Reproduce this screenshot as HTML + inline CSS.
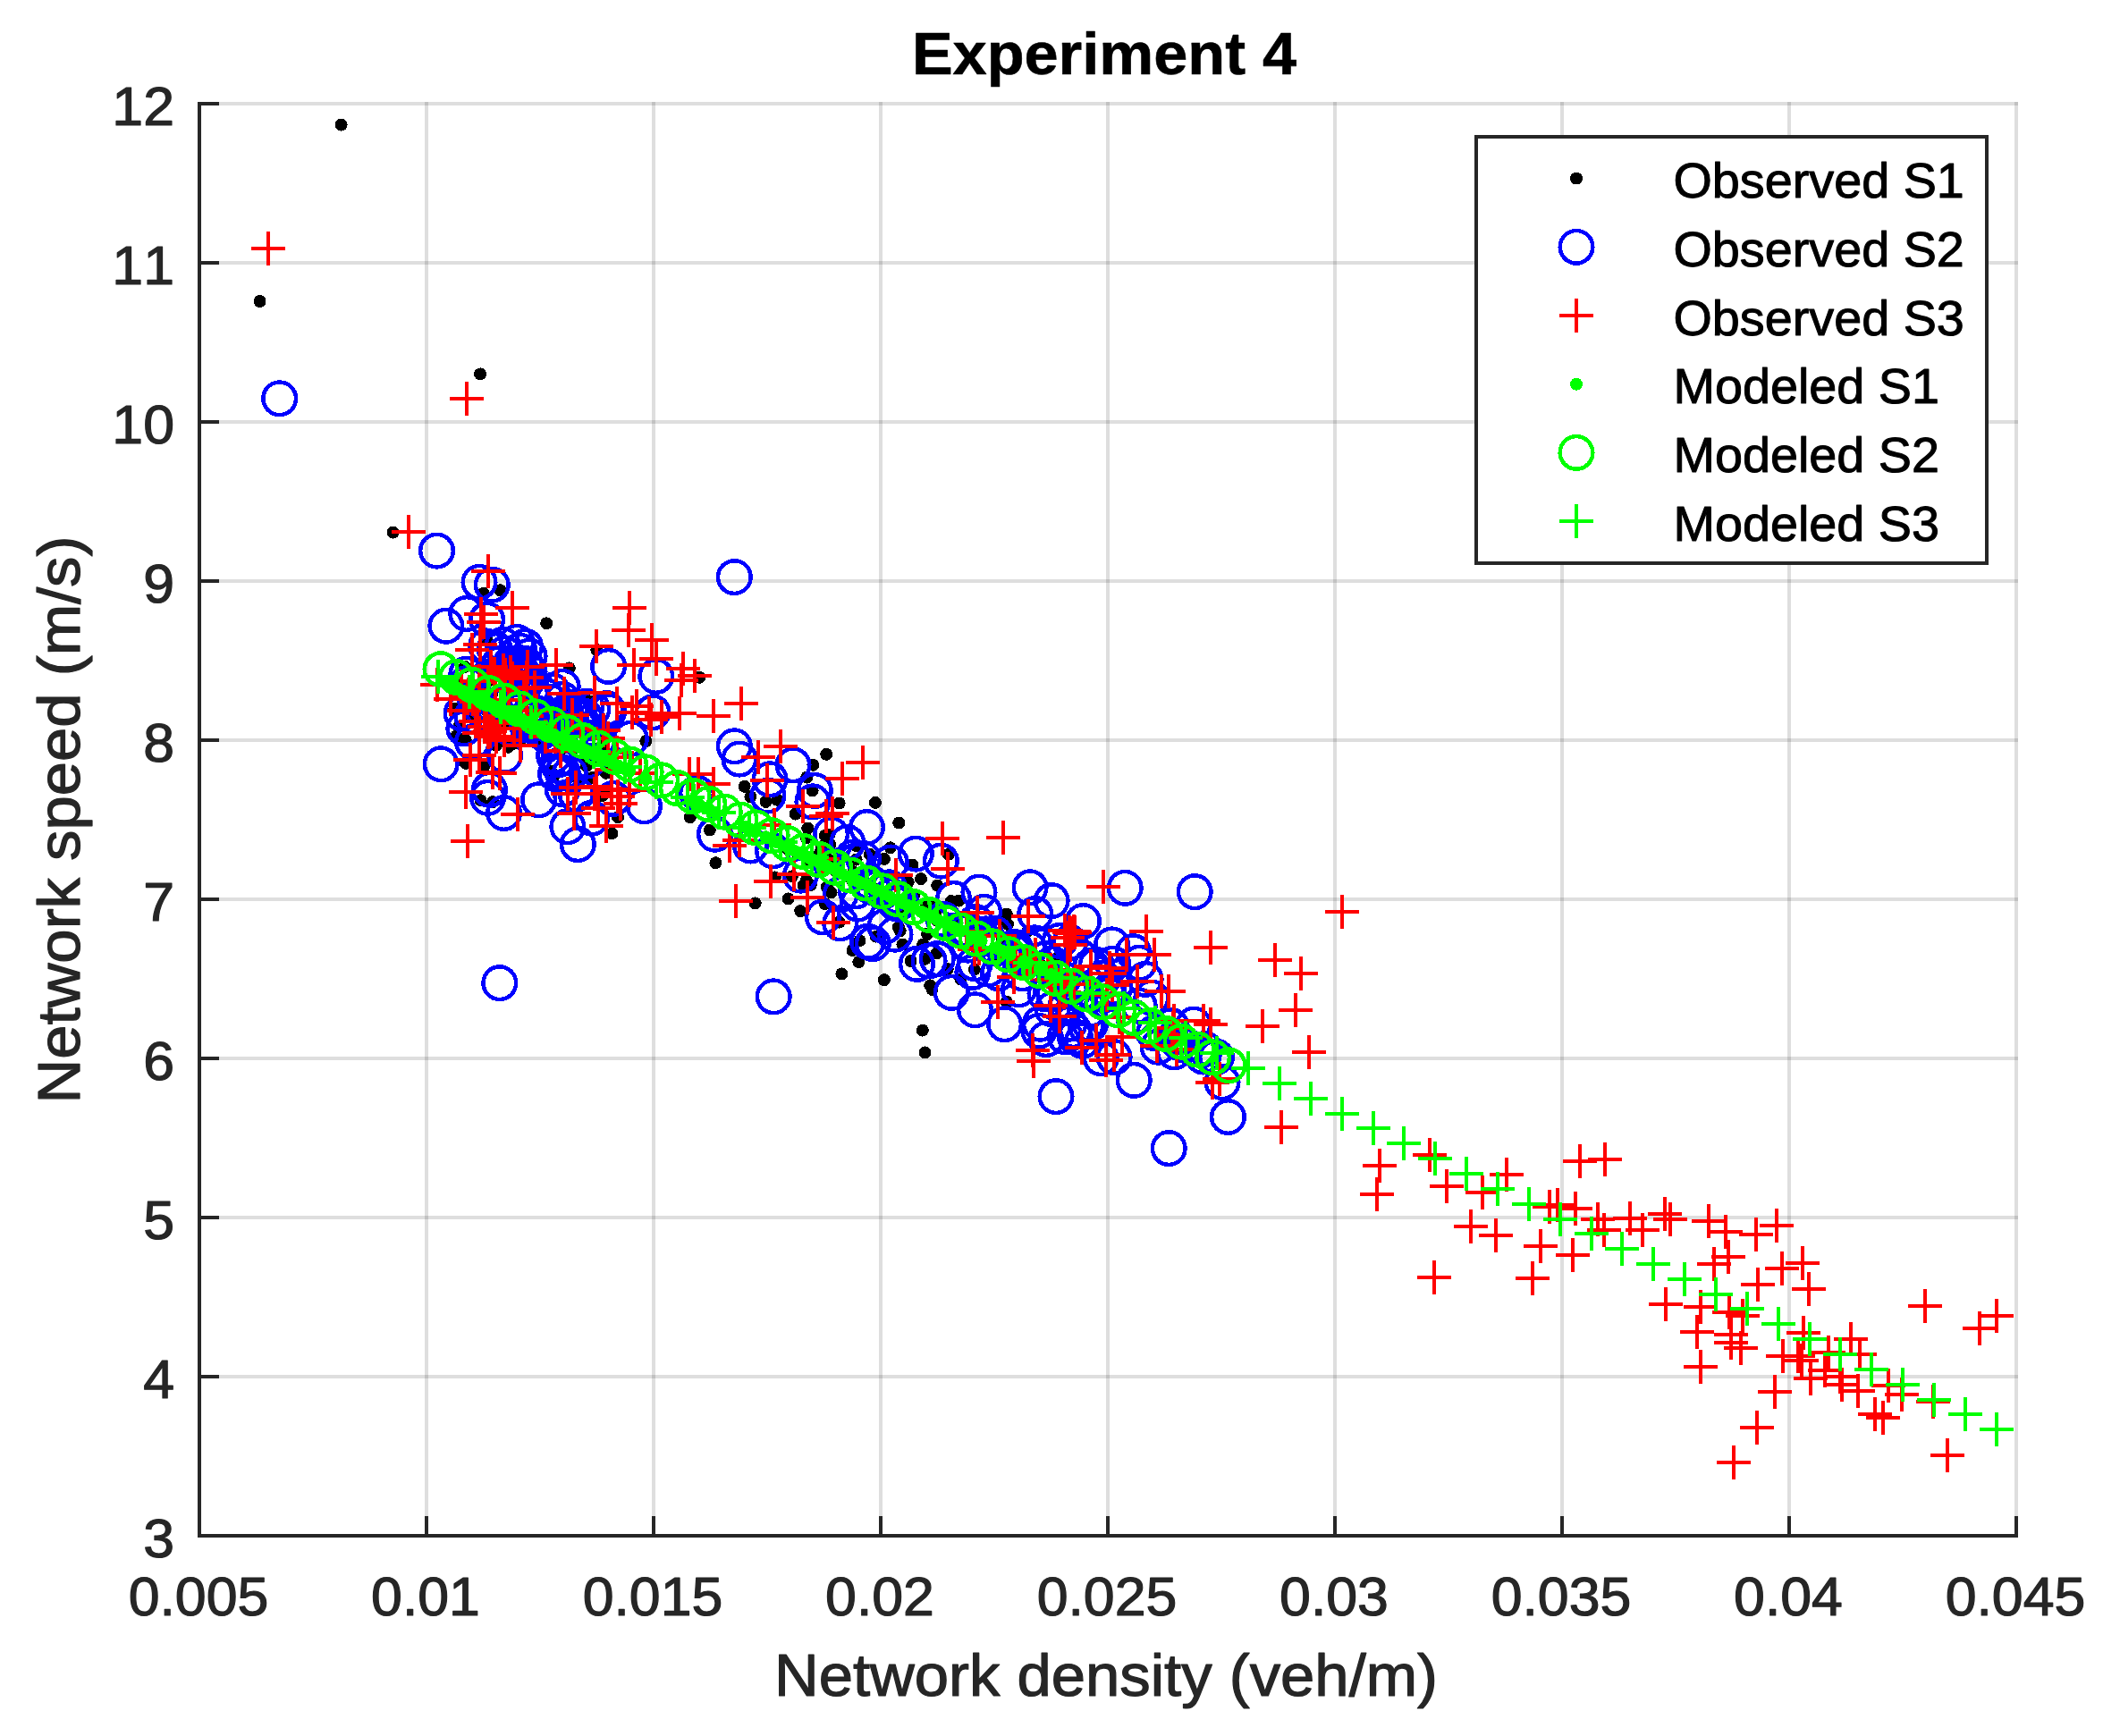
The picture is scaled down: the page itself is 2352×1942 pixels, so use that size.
<!DOCTYPE html>
<html><head><meta charset="utf-8"><title>Experiment 4</title>
<style>html,body{margin:0;padding:0;background:#fff}svg{display:block}text{font-family:"Liberation Sans",Arial,Helvetica,sans-serif;font-kerning:none}</style></head><body>
<svg width="2352" height="1942" viewBox="0 0 2352 1942">
<rect width="2352" height="1942" fill="#fff"/>
<g fill="#000" fill-opacity="0.13" shape-rendering="crispEdges"><rect x="475" y="114" width="4" height="1604"/><rect x="729" y="114" width="4" height="1604"/><rect x="983" y="114" width="4" height="1604"/><rect x="1237" y="114" width="4" height="1604"/><rect x="1491" y="114" width="4" height="1604"/><rect x="1745" y="114" width="4" height="1604"/><rect x="1999" y="114" width="4" height="1604"/><rect x="2253" y="114" width="4" height="1604"/><rect x="225" y="114" width="2032" height="4"/><rect x="225" y="292" width="2032" height="4"/><rect x="225" y="470" width="2032" height="4"/><rect x="225" y="648" width="2032" height="4"/><rect x="225" y="826" width="2032" height="4"/><rect x="225" y="1004" width="2032" height="4"/><rect x="225" y="1182" width="2032" height="4"/><rect x="225" y="1360" width="2032" height="4"/><rect x="225" y="1538" width="2032" height="4"/></g>
<g id="observed-s1"><g fill="#000" shape-rendering="crispEdges"><circle cx="381.6" cy="139.6" r="7"/><circle cx="290.6" cy="337.0" r="7"/><circle cx="537.1" cy="418.4" r="7"/><circle cx="439.6" cy="595.6" r="7"/><circle cx="540.8" cy="663.7" r="7"/><circle cx="559.4" cy="660.2" r="7"/><circle cx="611.2" cy="697.3" r="7"/><circle cx="667.3" cy="727.0" r="7"/><circle cx="636.8" cy="747.4" r="7"/><circle cx="782.3" cy="757.8" r="7"/><circle cx="545.5" cy="717.9" r="7"/><circle cx="508.4" cy="793.0" r="7"/><circle cx="513.2" cy="813.0" r="7"/><circle cx="510.3" cy="823.4" r="7"/><circle cx="520.8" cy="828.2" r="7"/><circle cx="555.0" cy="833.9" r="7"/><circle cx="568.4" cy="835.8" r="7"/><circle cx="520.8" cy="853.9" r="7"/><circle cx="541.7" cy="856.7" r="7"/><circle cx="722.4" cy="829.1" r="7"/><circle cx="615.9" cy="862.4" r="7"/><circle cx="618.8" cy="869.1" r="7"/><circle cx="655.9" cy="856.7" r="7"/><circle cx="676.8" cy="825.3" r="7"/><circle cx="659.7" cy="784.4" r="7"/><circle cx="589.3" cy="824.4" r="7"/><circle cx="924.2" cy="843.8" r="7"/><circle cx="909.4" cy="855.8" r="7"/><circle cx="537.5" cy="895.2" r="7"/><circle cx="551.2" cy="897.1" r="7"/><circle cx="684.4" cy="932.3" r="7"/><circle cx="691.0" cy="914.2" r="7"/><circle cx="771.9" cy="914.2" r="7"/><circle cx="793.8" cy="928.5" r="7"/><circle cx="800.4" cy="965.2" r="7"/><circle cx="673.0" cy="890.4" r="7"/><circle cx="902.2" cy="869.6" r="7"/><circle cx="908.6" cy="884.4" r="7"/><circle cx="832.6" cy="879.8" r="7"/><circle cx="839.4" cy="891.2" r="7"/><circle cx="856.5" cy="896.9" r="7"/><circle cx="869.1" cy="894.7" r="7"/><circle cx="938.7" cy="898.5" r="7"/><circle cx="978.9" cy="897.9" r="7"/><circle cx="889.6" cy="910.6" r="7"/><circle cx="1005.3" cy="920.5" r="7"/><circle cx="903.3" cy="926.6" r="7"/><circle cx="927.3" cy="933.5" r="7"/><circle cx="995.7" cy="948.3" r="7"/><circle cx="972.9" cy="955.8" r="7"/><circle cx="988.9" cy="960.9" r="7"/><circle cx="1020.4" cy="967.7" r="7"/><circle cx="1060.8" cy="955.8" r="7"/><circle cx="1030.0" cy="983.2" r="7"/><circle cx="1048.2" cy="990.5" r="7"/><circle cx="866.8" cy="981.4" r="7"/><circle cx="898.7" cy="990.5" r="7"/><circle cx="844.7" cy="1010.4" r="7"/><circle cx="881.6" cy="1005.4" r="7"/><circle cx="895.3" cy="1019.1" r="7"/><circle cx="929.6" cy="998.5" r="7"/><circle cx="922.7" cy="1011.1" r="7"/><circle cx="938.7" cy="1031.6" r="7"/><circle cx="1072.2" cy="1007.6" r="7"/><circle cx="1125.8" cy="1022.5" r="7"/><circle cx="1127.0" cy="1033.9" r="7"/><circle cx="1004.9" cy="1037.3" r="7"/><circle cx="979.8" cy="1047.6" r="7"/><circle cx="961.5" cy="1052.2" r="7"/><circle cx="1009.4" cy="1056.7" r="7"/><circle cx="953.5" cy="1063.1" r="7"/><circle cx="960.4" cy="1076.1" r="7"/><circle cx="1018.6" cy="1075.0" r="7"/><circle cx="1034.6" cy="1072.7" r="7"/><circle cx="941.4" cy="1089.4" r="7"/><circle cx="988.9" cy="1096.2" r="7"/><circle cx="1059.7" cy="1084.1" r="7"/><circle cx="1074.5" cy="1095.5" r="7"/><circle cx="1040.3" cy="1102.4" r="7"/><circle cx="1042.5" cy="1106.9" r="7"/><circle cx="1125.8" cy="1120.6" r="7"/><circle cx="1031.8" cy="1152.6" r="7"/><circle cx="1182.9" cy="1071.6" r="7"/><circle cx="1034.5" cy="1177.4" r="7"/><circle cx="534.2" cy="782.2" r="7"/><circle cx="641.3" cy="803.4" r="7"/><circle cx="562.7" cy="799.0" r="7"/><circle cx="677.4" cy="887.3" r="7"/><circle cx="654.2" cy="850.5" r="7"/><circle cx="634.5" cy="788.8" r="7"/><circle cx="544.7" cy="763.1" r="7"/><circle cx="510.1" cy="764.6" r="7"/><circle cx="509.9" cy="763.6" r="7"/><circle cx="626.2" cy="839.7" r="7"/><circle cx="677.9" cy="864.8" r="7"/><circle cx="672.1" cy="834.9" r="7"/><circle cx="544.7" cy="795.2" r="7"/><circle cx="539.4" cy="789.7" r="7"/><circle cx="662.6" cy="870.0" r="7"/><circle cx="652.1" cy="803.7" r="7"/><circle cx="644.9" cy="836.1" r="7"/><circle cx="519.8" cy="745.9" r="7"/><circle cx="641.9" cy="789.7" r="7"/><circle cx="636.3" cy="814.2" r="7"/><circle cx="643.1" cy="833.0" r="7"/><circle cx="563.2" cy="811.0" r="7"/><circle cx="575.2" cy="831.7" r="7"/><circle cx="534.8" cy="767.2" r="7"/><circle cx="527.2" cy="802.9" r="7"/><circle cx="646.1" cy="871.4" r="7"/><circle cx="530.6" cy="805.3" r="7"/><circle cx="566.3" cy="782.9" r="7"/><circle cx="507.5" cy="762.1" r="7"/><circle cx="674.9" cy="830.6" r="7"/><circle cx="668.4" cy="821.6" r="7"/><circle cx="580.9" cy="829.6" r="7"/><circle cx="541.9" cy="752.6" r="7"/><circle cx="549.1" cy="781.3" r="7"/><circle cx="607.6" cy="829.7" r="7"/><circle cx="550.4" cy="776.1" r="7"/><circle cx="664.3" cy="847.0" r="7"/><circle cx="566.9" cy="766.2" r="7"/><circle cx="663.3" cy="848.4" r="7"/><circle cx="578.6" cy="822.5" r="7"/><circle cx="1039.5" cy="1009.9" r="7"/><circle cx="1037.1" cy="1045.0" r="7"/><circle cx="934.9" cy="974.9" r="7"/><circle cx="881.2" cy="950.3" r="7"/><circle cx="1022.0" cy="1001.3" r="7"/><circle cx="1097.6" cy="1032.4" r="7"/><circle cx="1035.5" cy="1013.9" r="7"/><circle cx="1046.6" cy="1028.3" r="7"/><circle cx="1048.1" cy="1016.6" r="7"/><circle cx="954.5" cy="975.2" r="7"/><circle cx="1032.3" cy="1056.5" r="7"/><circle cx="1048.5" cy="1030.1" r="7"/><circle cx="1063.8" cy="1008.0" r="7"/><circle cx="1087.8" cy="1045.1" r="7"/><circle cx="1015.7" cy="986.6" r="7"/><circle cx="1162.5" cy="1076.9" r="7"/><circle cx="1089.8" cy="1084.5" r="7"/><circle cx="957.9" cy="946.4" r="7"/><circle cx="1047.9" cy="1066.2" r="7"/><circle cx="921.1" cy="950.8" r="7"/><circle cx="916.5" cy="955.2" r="7"/><circle cx="952.2" cy="983.5" r="7"/><circle cx="901.9" cy="937.5" r="7"/><circle cx="1149.1" cy="1041.9" r="7"/><circle cx="926.3" cy="961.2" r="7"/><circle cx="922.9" cy="934.7" r="7"/><circle cx="1144.8" cy="1088.7" r="7"/><circle cx="1165.8" cy="1080.5" r="7"/><circle cx="1129.7" cy="1071.6" r="7"/><circle cx="928.4" cy="944.9" r="7"/><circle cx="981.7" cy="1005.8" r="7"/><circle cx="938.7" cy="959.3" r="7"/><circle cx="885.8" cy="980.4" r="7"/><circle cx="1046.2" cy="1022.0" r="7"/><circle cx="979.4" cy="995.2" r="7"/><circle cx="1067.2" cy="1028.0" r="7"/><circle cx="1175.5" cy="1087.8" r="7"/><circle cx="1116.5" cy="1070.1" r="7"/><circle cx="959.7" cy="982.3" r="7"/><circle cx="891.9" cy="954.5" r="7"/><circle cx="918.9" cy="947.2" r="7"/><circle cx="1006.7" cy="1041.3" r="7"/><circle cx="957.6" cy="961.6" r="7"/><circle cx="924.8" cy="992.2" r="7"/><circle cx="1090.1" cy="1033.2" r="7"/><circle cx="906.8" cy="990.0" r="7"/><circle cx="1007.6" cy="1019.1" r="7"/><circle cx="901.7" cy="985.0" r="7"/><circle cx="1120.5" cy="1050.0" r="7"/><circle cx="905.1" cy="962.8" r="7"/></g></g>
<g id="observed-s2"><g fill="none" stroke="#0000ff" stroke-width="4.5" shape-rendering="crispEdges"><circle cx="312.7" cy="445.8" r="18.3"/><circle cx="488.5" cy="616.1" r="18.3"/><circle cx="536.0" cy="651.3" r="18.3"/><circle cx="550.3" cy="654.2" r="18.3"/><circle cx="821.3" cy="645.6" r="18.3"/><circle cx="521.8" cy="686.5" r="18.3"/><circle cx="498.9" cy="700.2" r="18.3"/><circle cx="544.6" cy="693.1" r="18.3"/><circle cx="553.1" cy="725.5" r="18.3"/><circle cx="592.1" cy="734.0" r="18.3"/><circle cx="587.4" cy="742.6" r="18.3"/><circle cx="680.6" cy="745.4" r="18.3"/><circle cx="733.8" cy="756.5" r="18.3"/><circle cx="730.0" cy="796.8" r="18.3"/><circle cx="493.2" cy="854.8" r="18.3"/><circle cx="516.1" cy="797.8" r="18.3"/><circle cx="518.9" cy="814.9" r="18.3"/><circle cx="528.4" cy="830.1" r="18.3"/><circle cx="821.3" cy="834.8" r="18.3"/><circle cx="827.0" cy="849.1" r="18.3"/><circle cx="655.9" cy="790.1" r="18.3"/><circle cx="629.2" cy="782.5" r="18.3"/><circle cx="680.6" cy="795.9" r="18.3"/><circle cx="619.7" cy="845.3" r="18.3"/><circle cx="625.4" cy="856.7" r="18.3"/><circle cx="629.2" cy="864.3" r="18.3"/><circle cx="547.4" cy="883.3" r="18.3"/><circle cx="602.6" cy="894.8" r="18.3"/><circle cx="564.6" cy="845.3" r="18.3"/><circle cx="705.3" cy="826.3" r="18.3"/><circle cx="779.5" cy="887.2" r="18.3"/><circle cx="564.6" cy="731.2" r="18.3"/><circle cx="558.8" cy="742.6" r="18.3"/><circle cx="572.2" cy="750.2" r="18.3"/><circle cx="638.7" cy="797.8" r="18.3"/><circle cx="610.2" cy="778.7" r="18.3"/><circle cx="887.0" cy="855.8" r="18.3"/><circle cx="545.5" cy="892.3" r="18.3"/><circle cx="563.6" cy="909.5" r="18.3"/><circle cx="634.9" cy="924.7" r="18.3"/><circle cx="646.3" cy="944.6" r="18.3"/><circle cx="720.5" cy="901.8" r="18.3"/><circle cx="799.5" cy="933.2" r="18.3"/><circle cx="558.8" cy="1099.7" r="18.3"/><circle cx="661.6" cy="915.2" r="18.3"/><circle cx="644.4" cy="888.5" r="18.3"/><circle cx="629.2" cy="882.8" r="18.3"/><circle cx="621.6" cy="865.7" r="18.3"/><circle cx="861.1" cy="871.8" r="18.3"/><circle cx="858.8" cy="890.1" r="18.3"/><circle cx="911.3" cy="884.4" r="18.3"/><circle cx="909.0" cy="896.9" r="18.3"/><circle cx="969.5" cy="925.5" r="18.3"/><circle cx="1024.3" cy="955.1" r="18.3"/><circle cx="1052.4" cy="963.1" r="18.3"/><circle cx="1095.0" cy="998.1" r="18.3"/><circle cx="1152.1" cy="992.8" r="18.3"/><circle cx="1176.1" cy="1007.6" r="18.3"/><circle cx="1258.2" cy="993.3" r="18.3"/><circle cx="1157.8" cy="1022.5" r="18.3"/><circle cx="1211.4" cy="1030.5" r="18.3"/><circle cx="1100.7" cy="1020.2" r="18.3"/><circle cx="1066.5" cy="1005.4" r="18.3"/><circle cx="839.4" cy="946.0" r="18.3"/><circle cx="864.5" cy="951.7" r="18.3"/><circle cx="895.3" cy="979.1" r="18.3"/><circle cx="920.4" cy="1025.9" r="18.3"/><circle cx="939.8" cy="1032.8" r="18.3"/><circle cx="970.6" cy="1053.3" r="18.3"/><circle cx="976.3" cy="1055.6" r="18.3"/><circle cx="990.0" cy="1036.2" r="18.3"/><circle cx="959.2" cy="1011.1" r="18.3"/><circle cx="1025.4" cy="1078.4" r="18.3"/><circle cx="1039.1" cy="1075.0" r="18.3"/><circle cx="1048.2" cy="1072.7" r="18.3"/><circle cx="865.2" cy="1114.9" r="18.3"/><circle cx="1064.2" cy="1110.4" r="18.3"/><circle cx="1090.5" cy="1129.8" r="18.3"/><circle cx="1123.6" cy="1145.7" r="18.3"/><circle cx="1105.3" cy="1084.1" r="18.3"/><circle cx="1116.7" cy="1088.7" r="18.3"/><circle cx="1139.5" cy="1106.9" r="18.3"/><circle cx="1267.4" cy="1064.7" r="18.3"/><circle cx="1274.2" cy="1077.3" r="18.3"/><circle cx="1226.3" cy="1079.5" r="18.3"/><circle cx="1169.2" cy="1072.7" r="18.3"/><circle cx="1196.6" cy="1054.4" r="18.3"/><circle cx="1274.2" cy="1125.2" r="18.3"/><circle cx="1287.9" cy="1116.1" r="18.3"/><circle cx="1219.4" cy="1145.7" r="18.3"/><circle cx="929.6" cy="933.5" r="18.3"/><circle cx="956.9" cy="963.1" r="18.3"/><circle cx="947.8" cy="942.6" r="18.3"/><circle cx="1336.2" cy="997.7" r="18.3"/><circle cx="1335.1" cy="1146.1" r="18.3"/><circle cx="1191.3" cy="1159.8" r="18.3"/><circle cx="1210.7" cy="1164.3" r="18.3"/><circle cx="1231.2" cy="1183.7" r="18.3"/><circle cx="1246.1" cy="1182.6" r="18.3"/><circle cx="1295.1" cy="1171.2" r="18.3"/><circle cx="1268.2" cy="1208.4" r="18.3"/><circle cx="1181.0" cy="1226.6" r="18.3"/><circle cx="1373.4" cy="1249.5" r="18.3"/><circle cx="1307.2" cy="1284.6" r="18.3"/><circle cx="1347.6" cy="1173.5" r="18.3"/><circle cx="571.7" cy="815.2" r="18.3"/><circle cx="527.7" cy="801.3" r="18.3"/><circle cx="608.8" cy="809.5" r="18.3"/><circle cx="603.8" cy="817.8" r="18.3"/><circle cx="521.6" cy="764.7" r="18.3"/><circle cx="530.9" cy="780.3" r="18.3"/><circle cx="589.3" cy="810.4" r="18.3"/><circle cx="554.1" cy="778.1" r="18.3"/><circle cx="624.8" cy="849.6" r="18.3"/><circle cx="584.4" cy="793.5" r="18.3"/><circle cx="685.8" cy="893.4" r="18.3"/><circle cx="565.7" cy="806.3" r="18.3"/><circle cx="540.2" cy="795.4" r="18.3"/><circle cx="657.8" cy="851.0" r="18.3"/><circle cx="546.6" cy="757.1" r="18.3"/><circle cx="580.2" cy="785.3" r="18.3"/><circle cx="610.9" cy="822.7" r="18.3"/><circle cx="551.0" cy="789.6" r="18.3"/><circle cx="634.1" cy="809.6" r="18.3"/><circle cx="617.5" cy="827.1" r="18.3"/><circle cx="594.3" cy="795.5" r="18.3"/><circle cx="637.3" cy="865.6" r="18.3"/><circle cx="557.7" cy="765.9" r="18.3"/><circle cx="668.1" cy="831.1" r="18.3"/><circle cx="642.7" cy="816.4" r="18.3"/><circle cx="588.2" cy="805.2" r="18.3"/><circle cx="600.6" cy="798.0" r="18.3"/><circle cx="521.9" cy="754.2" r="18.3"/><circle cx="615.3" cy="785.1" r="18.3"/><circle cx="668.2" cy="830.0" r="18.3"/><circle cx="1191.5" cy="1127.4" r="18.3"/><circle cx="1185.2" cy="1052.5" r="18.3"/><circle cx="1345.7" cy="1182.0" r="18.3"/><circle cx="1138.6" cy="1066.6" r="18.3"/><circle cx="1238.7" cy="1112.2" r="18.3"/><circle cx="1214.7" cy="1148.2" r="18.3"/><circle cx="1055.2" cy="1028.5" r="18.3"/><circle cx="1099.7" cy="1049.5" r="18.3"/><circle cx="1133.1" cy="1063.8" r="18.3"/><circle cx="1003.9" cy="1011.2" r="18.3"/><circle cx="1268.0" cy="1138.2" r="18.3"/><circle cx="986.9" cy="997.6" r="18.3"/><circle cx="1313.4" cy="1176.9" r="18.3"/><circle cx="965.5" cy="960.5" r="18.3"/><circle cx="1318.7" cy="1166.3" r="18.3"/><circle cx="1290.5" cy="1155.6" r="18.3"/><circle cx="1112.7" cy="1044.6" r="18.3"/><circle cx="1087.9" cy="1087.4" r="18.3"/><circle cx="996.4" cy="965.0" r="18.3"/><circle cx="1007.5" cy="1009.0" r="18.3"/><circle cx="1143.4" cy="1088.8" r="18.3"/><circle cx="1189.2" cy="1094.8" r="18.3"/><circle cx="1114.3" cy="1060.8" r="18.3"/><circle cx="1233.8" cy="1094.5" r="18.3"/><circle cx="1156.8" cy="1054.9" r="18.3"/><circle cx="953.8" cy="959.0" r="18.3"/><circle cx="1325.8" cy="1169.4" r="18.3"/><circle cx="1281.1" cy="1095.4" r="18.3"/><circle cx="1102.6" cy="1044.9" r="18.3"/><circle cx="1209.1" cy="1110.7" r="18.3"/><circle cx="957.4" cy="996.7" r="18.3"/><circle cx="1001.4" cy="1010.4" r="18.3"/><circle cx="1079.6" cy="1042.5" r="18.3"/><circle cx="996.6" cy="1002.1" r="18.3"/><circle cx="974.6" cy="988.1" r="18.3"/><circle cx="1314.7" cy="1159.4" r="18.3"/><circle cx="1200.2" cy="1110.3" r="18.3"/><circle cx="1082.9" cy="1057.1" r="18.3"/><circle cx="1090.2" cy="1077.8" r="18.3"/><circle cx="1367.0" cy="1210.7" r="18.3"/><circle cx="1135.0" cy="1059.6" r="18.3"/><circle cx="975.0" cy="992.4" r="18.3"/><circle cx="1080.8" cy="1038.8" r="18.3"/><circle cx="1001.0" cy="1045.2" r="18.3"/><circle cx="940.2" cy="1000.4" r="18.3"/><circle cx="994.5" cy="992.8" r="18.3"/><circle cx="1169.0" cy="1111.8" r="18.3"/><circle cx="1360.5" cy="1182.4" r="18.3"/><circle cx="1309.9" cy="1147.6" r="18.3"/><circle cx="1091.3" cy="1031.6" r="18.3"/><circle cx="578.0" cy="718.3" r="18.3"/><circle cx="588.8" cy="762.4" r="18.3"/><circle cx="577.1" cy="754.2" r="18.3"/><circle cx="587.5" cy="723.2" r="18.3"/><circle cx="571.3" cy="742.2" r="18.3"/><circle cx="588.8" cy="757.8" r="18.3"/><circle cx="588.3" cy="746.4" r="18.3"/><circle cx="592.0" cy="751.5" r="18.3"/><circle cx="580.8" cy="728.0" r="18.3"/><circle cx="543.7" cy="722.9" r="18.3"/><circle cx="562.2" cy="721.5" r="18.3"/><circle cx="588.8" cy="745.0" r="18.3"/><circle cx="577.2" cy="748.6" r="18.3"/><circle cx="580.1" cy="741.4" r="18.3"/><circle cx="612.2" cy="810.3" r="18.3"/><circle cx="662.9" cy="793.2" r="18.3"/><circle cx="648.4" cy="802.2" r="18.3"/><circle cx="616.5" cy="806.7" r="18.3"/><circle cx="629.1" cy="768.3" r="18.3"/><circle cx="630.1" cy="806.3" r="18.3"/><circle cx="626.0" cy="806.9" r="18.3"/><circle cx="678.3" cy="792.6" r="18.3"/><circle cx="638.0" cy="791.8" r="18.3"/><circle cx="658.5" cy="808.5" r="18.3"/><circle cx="654.0" cy="801.3" r="18.3"/><circle cx="617.3" cy="772.6" r="18.3"/><circle cx="629.3" cy="807.1" r="18.3"/><circle cx="632.7" cy="796.9" r="18.3"/><circle cx="1151.2" cy="1061.7" r="18.3"/><circle cx="1176.9" cy="1128.9" r="18.3"/><circle cx="1219.2" cy="1129.3" r="18.3"/><circle cx="1179.1" cy="1111.8" r="18.3"/><circle cx="1196.5" cy="1106.3" r="18.3"/><circle cx="1161.9" cy="1153.3" r="18.3"/><circle cx="1169.9" cy="1162.6" r="18.3"/><circle cx="1243.6" cy="1056.9" r="18.3"/><circle cx="1195.9" cy="1145.2" r="18.3"/><circle cx="1246.8" cy="1104.4" r="18.3"/><circle cx="1176.9" cy="1078.1" r="18.3"/><circle cx="1244.6" cy="1078.2" r="18.3"/><circle cx="1208.1" cy="1070.6" r="18.3"/><circle cx="1202.4" cy="1159.8" r="18.3"/><circle cx="1163.3" cy="1145.2" r="18.3"/><circle cx="1200.9" cy="1152.6" r="18.3"/><circle cx="1220.3" cy="1080.5" r="18.3"/><circle cx="1239.8" cy="1108.5" r="18.3"/></g></g>
<g id="observed-s3"><path d="M281 278h38M300 259v38M503 446h38M522 427v38M438 595h38M457 576v38M527 639h38M546 620v38M554 680h38M573 661v38M519 687h38M538 668v38M522 696h38M541 677v38M685 680h38M704 661v38M684 705h38M703 686v38M710 716h38M729 697v38M648 723h38M667 704v38M715 737h38M734 718v38M690 744h38M709 725v38M603 744h38M622 725v38M745 748h38M764 729v38M758 756h38M777 737v38M743 761h38M762 742v38M518 721h38M537 702v38M509 727h38M528 708v38M470 766h38M489 747v38M552 752h38M571 733v38M534 754h38M553 735v38M570 758h38M589 739v38M579 769h38M598 750v38M612 776h38M631 757v38M646 775h38M665 756v38M671 787h38M690 768v38M688 797h38M707 778v38M693 790h38M712 771v38M709 805h38M728 786v38M707 798h38M726 779v38M721 802h38M740 783v38M741 798h38M760 779v38M779 801h38M798 782v38M810 787h38M829 768v38M515 807h38M534 788v38M523 813h38M542 794v38M527 819h38M546 800v38M563 834h38M582 815v38M507 850h38M526 831v38M517 845h38M536 826v38M532 864h38M551 845v38M540 865h38M559 846v38M502 886h38M521 867v38M656 817h38M675 798v38M631 815h38M650 796v38M752 866h38M771 847v38M779 877h38M798 858v38M625 881h38M644 862v38M648 880h38M667 861v38M665 883h38M684 864v38M608 840h38M627 821v38M671 842h38M690 823v38M854 835h38M873 816v38M829 847h38M848 828v38M946 853h38M965 834v38M560 911h38M579 892v38M504 941h38M523 922v38M616 888h38M635 869v38M623 910h38M642 891v38M646 888h38M665 869v38M650 904h38M669 885v38M675 899h38M694 880v38M672 891h38M691 872v38M659 924h38M678 905v38M797 946h38M816 927v38M804 1008h38M823 989v38M762 866h38M781 847v38M839 873h38M858 854v38M923 871h38M942 852v38M879 902h38M898 883v38M905 913h38M924 894v38M912 910h38M931 891v38M1035 938h38M1054 919v38M1103 937h38M1122 918v38M1041 972h38M1060 953v38M983 979h38M1002 960v38M1215 992h38M1234 973v38M843 986h38M862 967v38M869 978h38M888 959v38M884 1004h38M903 985v38M913 1032h38M932 1013v38M1074 1021h38M1093 1002v38M1131 1025h38M1150 1006v38M1175 1049h38M1194 1030v38M1182 1042h38M1201 1023v38M1178 1057h38M1197 1038v38M1263 1042h38M1282 1023v38M1222 1083h38M1241 1064v38M1241 1068h38M1260 1049v38M1272 1068h38M1291 1049v38M1253 1098h38M1272 1079v38M1225 1102h38M1244 1083v38M1115 1093h38M1134 1074v38M1097 1121h38M1116 1102v38M1156 1125h38M1175 1106v38M1166 1137h38M1185 1118v38M1076 1061h38M1095 1042v38M808 940h38M827 921v38M847 923h38M866 904v38M901 961h38M920 942v38M1280 1109h38M1299 1090v38M1482 1020h38M1501 1001v38M1335 1060h38M1354 1041v38M1407 1074h38M1426 1055v38M1436 1089h38M1455 1070v38M1288 1109h38M1307 1090v38M1430 1130h38M1449 1111v38M1327 1142h38M1346 1123v38M1335 1146h38M1354 1127v38M1393 1148h38M1412 1129v38M1445 1177h38M1464 1158v38M1136 1175h38M1155 1156v38M1137 1187h38M1156 1168v38M1191 1172h38M1210 1153v38M1207 1164h38M1226 1145v38M1218 1186h38M1237 1167v38M1227 1180h38M1246 1161v38M1275 1170h38M1294 1151v38M1337 1211h38M1356 1192v38M1345 1207h38M1364 1188v38M1414 1261h38M1433 1242v38M1524 1304h38M1543 1285v38M1521 1336h38M1540 1317v38M1236 1160h38M1255 1141v38M1580 1292h38M1599 1273v38M1599 1327h38M1618 1308v38M1666 1314h38M1685 1295v38M1639 1334h38M1658 1315v38M1748 1299h38M1767 1280v38M1776 1297h38M1795 1278v38M1626 1372h38M1645 1353v38M1654 1382h38M1673 1363v38M1704 1394h38M1723 1375v38M1585 1429h38M1604 1410v38M1695 1430h38M1714 1411v38M1740 1404h38M1759 1385v38M1714 1350h38M1733 1331v38M1723 1348h38M1742 1329v38M1743 1352h38M1762 1333v38M1768 1364h38M1787 1345v38M1775 1376h38M1794 1357v38M1804 1363h38M1823 1344v38M1818 1376h38M1837 1357v38M1843 1358h38M1862 1339v38M1849 1364h38M1868 1345v38M1892 1366h38M1911 1347v38M1911 1378h38M1930 1359v38M1945 1381h38M1964 1362v38M1968 1371h38M1987 1352v38M1914 1406h38M1933 1387v38M1898 1414h38M1917 1395v38M1997 1413h38M2016 1394v38M1974 1419h38M1993 1400v38M1947 1437h38M1966 1418v38M2004 1442h38M2023 1423v38M1844 1459h38M1863 1440v38M1883 1462h38M1902 1443v38M1915 1468h38M1934 1449v38M1930 1472h38M1949 1453v38M1879 1490h38M1898 1471v38M1998 1491h38M2017 1472v38M1917 1493h38M1936 1474v38M1883 1529h38M1902 1510v38M1917 1502h38M1936 1483v38M1928 1508h38M1947 1489v38M1975 1517h38M1994 1498v38M1992 1517h38M2011 1498v38M1996 1522h38M2015 1503v38M2006 1542h38M2025 1523v38M2022 1533h38M2041 1514v38M2026 1513h38M2045 1494v38M2039 1540h38M2058 1521v38M1966 1557h38M1985 1538v38M1946 1597h38M1965 1578v38M1920 1636h38M1939 1617v38M2134 1461h38M2153 1442v38M2214 1472h38M2233 1453v38M2195 1486h38M2214 1467v38M2051 1498h38M2070 1479v38M2061 1515h38M2080 1496v38M2059 1556h38M2078 1537v38M2093 1550h38M2112 1531v38M2108 1560h38M2127 1541v38M2143 1568h38M2162 1549v38M2078 1582h38M2097 1563v38M2087 1586h38M2106 1567v38M2159 1628h38M2178 1609v38M2041 1549h38M2060 1530v38M671 847h38M690 828v38M581 795h38M600 776v38M685 884h38M704 865v38M540 809h38M559 790v38M533 807h38M552 788v38M505 777h38M524 758v38M525 789h38M544 770v38M550 783h38M569 764v38M545 828h38M564 809v38M591 824h38M610 805v38M485 782h38M504 763v38M536 824h38M555 805v38M602 824h38M621 805v38M504 781h38M523 762v38M661 826h38M680 807v38M665 861h38M684 842v38M567 770h38M586 751v38M697 865h38M716 846v38M556 815h38M575 796v38M621 800h38M640 781v38M570 801h38M589 782v38M510 782h38M529 763v38M497 768h38M516 749v38M517 762h38M536 743v38M500 795h38M519 776v38M1222 1089h38M1241 1070v38M1129 1076h38M1148 1057v38M1171 1110h38M1190 1091v38M1099 1047h38M1118 1028v38M1292 1158h38M1311 1139v38M1294 1142h38M1313 1123v38M1293 1150h38M1312 1131v38M1135 1078h38M1154 1059v38M1153 1087h38M1172 1068v38M1175 1085h38M1194 1066v38M1182 1101h38M1201 1082v38M1062 1042h38M1081 1023v38M1157 1096h38M1176 1077v38M1071 1062h38M1090 1043v38M1117 1071h38M1136 1052v38M1201 1081h38M1220 1062v38M1219 1113h38M1238 1094v38M1233 1138h38M1252 1119v38M1139 1068h38M1158 1049v38M1297 1174h38M1316 1155v38M530 746h38M549 727v38M554 759h38M573 740v38M544 750h38M563 731v38M546 755h38M565 736v38M571 746h38M590 727v38M567 770h38M586 751v38M535 772h38M554 753v38M529 818h38M548 799v38M513 807h38M532 788v38M517 820h38M536 801v38M1180 1044h38M1199 1025v38M1177 1043h38M1196 1024v38M1172 1041h38M1191 1022v38M1183 1043h38M1202 1024v38" stroke="#ff0000" stroke-width="4" fill="none" shape-rendering="crispEdges"/></g>
<g id="modeled-s1"><g fill="#00ff00" shape-rendering="crispEdges"><circle cx="494.0" cy="761.6" r="7"/><circle cx="500.0" cy="764.5" r="7"/><circle cx="506.0" cy="767.4" r="7"/><circle cx="507.5" cy="768.1" r="7"/><circle cx="508.4" cy="768.6" r="7"/><circle cx="509.9" cy="769.3" r="7"/><circle cx="510.1" cy="769.4" r="7"/><circle cx="510.3" cy="769.5" r="7"/><circle cx="512.0" cy="770.3" r="7"/><circle cx="513.2" cy="770.9" r="7"/><circle cx="518.0" cy="773.2" r="7"/><circle cx="519.8" cy="774.1" r="7"/><circle cx="520.8" cy="774.5" r="7"/><circle cx="520.8" cy="774.5" r="7"/><circle cx="524.0" cy="776.1" r="7"/><circle cx="527.2" cy="777.6" r="7"/><circle cx="530.0" cy="779.0" r="7"/><circle cx="530.6" cy="779.3" r="7"/><circle cx="534.2" cy="781.0" r="7"/><circle cx="534.8" cy="781.3" r="7"/><circle cx="536.0" cy="781.9" r="7"/><circle cx="537.1" cy="782.4" r="7"/><circle cx="537.5" cy="782.6" r="7"/><circle cx="539.4" cy="783.5" r="7"/><circle cx="540.8" cy="784.2" r="7"/><circle cx="541.7" cy="784.6" r="7"/><circle cx="541.9" cy="784.7" r="7"/><circle cx="542.0" cy="784.8" r="7"/><circle cx="544.7" cy="786.1" r="7"/><circle cx="544.7" cy="786.1" r="7"/><circle cx="545.5" cy="786.4" r="7"/><circle cx="548.0" cy="787.6" r="7"/><circle cx="549.1" cy="788.2" r="7"/><circle cx="550.4" cy="788.8" r="7"/><circle cx="551.2" cy="789.2" r="7"/><circle cx="554.0" cy="790.5" r="7"/><circle cx="555.0" cy="791.0" r="7"/><circle cx="559.4" cy="793.1" r="7"/><circle cx="560.0" cy="793.4" r="7"/><circle cx="562.7" cy="794.7" r="7"/><circle cx="563.2" cy="795.0" r="7"/><circle cx="566.0" cy="796.3" r="7"/><circle cx="566.3" cy="796.5" r="7"/><circle cx="566.9" cy="796.7" r="7"/><circle cx="568.4" cy="797.5" r="7"/><circle cx="572.0" cy="799.2" r="7"/><circle cx="575.2" cy="800.7" r="7"/><circle cx="578.0" cy="802.1" r="7"/><circle cx="578.6" cy="802.4" r="7"/><circle cx="580.9" cy="803.5" r="7"/><circle cx="584.0" cy="805.0" r="7"/><circle cx="589.3" cy="807.5" r="7"/><circle cx="590.0" cy="807.9" r="7"/><circle cx="596.0" cy="810.8" r="7"/><circle cx="602.0" cy="813.7" r="7"/><circle cx="607.6" cy="816.4" r="7"/><circle cx="608.0" cy="816.6" r="7"/><circle cx="611.2" cy="818.1" r="7"/><circle cx="614.0" cy="819.4" r="7"/><circle cx="615.9" cy="820.4" r="7"/><circle cx="618.8" cy="821.8" r="7"/><circle cx="620.0" cy="822.3" r="7"/><circle cx="626.0" cy="825.2" r="7"/><circle cx="626.2" cy="825.3" r="7"/><circle cx="632.0" cy="828.1" r="7"/><circle cx="634.5" cy="829.3" r="7"/><circle cx="636.3" cy="830.2" r="7"/><circle cx="636.8" cy="830.4" r="7"/><circle cx="638.0" cy="831.0" r="7"/><circle cx="641.3" cy="832.6" r="7"/><circle cx="641.9" cy="832.9" r="7"/><circle cx="643.1" cy="833.5" r="7"/><circle cx="644.0" cy="833.9" r="7"/><circle cx="644.9" cy="834.3" r="7"/><circle cx="646.1" cy="834.9" r="7"/><circle cx="650.0" cy="836.8" r="7"/><circle cx="652.1" cy="837.8" r="7"/><circle cx="654.2" cy="838.8" r="7"/><circle cx="655.9" cy="839.6" r="7"/><circle cx="656.0" cy="839.7" r="7"/><circle cx="659.7" cy="841.5" r="7"/><circle cx="662.0" cy="842.6" r="7"/><circle cx="662.6" cy="842.9" r="7"/><circle cx="663.3" cy="843.2" r="7"/><circle cx="664.3" cy="843.7" r="7"/><circle cx="667.3" cy="845.1" r="7"/><circle cx="668.0" cy="845.5" r="7"/><circle cx="668.4" cy="845.7" r="7"/><circle cx="672.1" cy="847.4" r="7"/><circle cx="673.0" cy="847.9" r="7"/><circle cx="674.0" cy="848.3" r="7"/><circle cx="674.9" cy="848.8" r="7"/><circle cx="676.8" cy="849.7" r="7"/><circle cx="677.4" cy="850.0" r="7"/><circle cx="677.9" cy="850.2" r="7"/><circle cx="680.0" cy="851.2" r="7"/><circle cx="684.4" cy="853.4" r="7"/><circle cx="686.0" cy="854.1" r="7"/><circle cx="691.0" cy="856.5" r="7"/><circle cx="692.0" cy="857.0" r="7"/><circle cx="698.0" cy="859.9" r="7"/><circle cx="704.0" cy="862.8" r="7"/><circle cx="722.4" cy="871.7" r="7"/><circle cx="771.9" cy="895.5" r="7"/><circle cx="782.3" cy="900.5" r="7"/><circle cx="793.8" cy="906.1" r="7"/><circle cx="800.4" cy="909.2" r="7"/><circle cx="832.6" cy="924.8" r="7"/><circle cx="839.4" cy="928.0" r="7"/><circle cx="844.7" cy="930.6" r="7"/><circle cx="856.5" cy="936.3" r="7"/><circle cx="866.8" cy="941.2" r="7"/><circle cx="869.1" cy="942.3" r="7"/><circle cx="881.2" cy="948.2" r="7"/><circle cx="881.6" cy="948.4" r="7"/><circle cx="885.8" cy="950.4" r="7"/><circle cx="889.6" cy="952.2" r="7"/><circle cx="891.9" cy="953.3" r="7"/><circle cx="895.3" cy="955.0" r="7"/><circle cx="898.7" cy="956.6" r="7"/><circle cx="901.7" cy="958.1" r="7"/><circle cx="901.9" cy="958.2" r="7"/><circle cx="902.2" cy="958.3" r="7"/><circle cx="903.3" cy="958.8" r="7"/><circle cx="905.1" cy="959.7" r="7"/><circle cx="906.8" cy="960.5" r="7"/><circle cx="908.6" cy="961.4" r="7"/><circle cx="909.4" cy="961.8" r="7"/><circle cx="916.5" cy="965.2" r="7"/><circle cx="918.9" cy="966.3" r="7"/><circle cx="921.1" cy="967.4" r="7"/><circle cx="922.7" cy="968.2" r="7"/><circle cx="922.9" cy="968.3" r="7"/><circle cx="924.2" cy="968.9" r="7"/><circle cx="924.8" cy="969.2" r="7"/><circle cx="926.3" cy="969.9" r="7"/><circle cx="927.3" cy="970.4" r="7"/><circle cx="928.4" cy="970.9" r="7"/><circle cx="929.6" cy="971.5" r="7"/><circle cx="934.9" cy="974.1" r="7"/><circle cx="938.7" cy="975.9" r="7"/><circle cx="938.7" cy="975.9" r="7"/><circle cx="938.7" cy="975.9" r="7"/><circle cx="941.4" cy="977.2" r="7"/><circle cx="952.2" cy="982.4" r="7"/><circle cx="953.5" cy="983.0" r="7"/><circle cx="954.5" cy="983.5" r="7"/><circle cx="957.6" cy="985.0" r="7"/><circle cx="957.9" cy="985.1" r="7"/><circle cx="959.7" cy="986.0" r="7"/><circle cx="960.4" cy="986.3" r="7"/><circle cx="961.5" cy="986.9" r="7"/><circle cx="972.9" cy="992.4" r="7"/><circle cx="978.9" cy="995.3" r="7"/><circle cx="979.4" cy="995.5" r="7"/><circle cx="979.8" cy="995.7" r="7"/><circle cx="981.7" cy="996.6" r="7"/><circle cx="988.9" cy="1000.1" r="7"/><circle cx="988.9" cy="1000.1" r="7"/><circle cx="995.7" cy="1003.3" r="7"/><circle cx="1004.9" cy="1007.8" r="7"/><circle cx="1005.3" cy="1008.0" r="7"/><circle cx="1006.7" cy="1008.6" r="7"/><circle cx="1007.6" cy="1009.1" r="7"/><circle cx="1009.4" cy="1009.9" r="7"/><circle cx="1015.7" cy="1013.0" r="7"/><circle cx="1018.6" cy="1014.4" r="7"/><circle cx="1020.4" cy="1015.2" r="7"/><circle cx="1022.0" cy="1016.0" r="7"/><circle cx="1030.0" cy="1019.9" r="7"/><circle cx="1031.8" cy="1020.7" r="7"/><circle cx="1032.3" cy="1021.0" r="7"/><circle cx="1034.5" cy="1022.0" r="7"/><circle cx="1034.6" cy="1022.1" r="7"/><circle cx="1035.5" cy="1022.5" r="7"/><circle cx="1037.1" cy="1023.3" r="7"/><circle cx="1039.5" cy="1024.4" r="7"/><circle cx="1040.3" cy="1024.8" r="7"/><circle cx="1042.5" cy="1025.9" r="7"/><circle cx="1046.2" cy="1027.7" r="7"/><circle cx="1046.6" cy="1027.9" r="7"/><circle cx="1047.9" cy="1028.5" r="7"/><circle cx="1048.1" cy="1028.6" r="7"/><circle cx="1048.2" cy="1028.6" r="7"/><circle cx="1048.5" cy="1028.8" r="7"/><circle cx="1059.7" cy="1034.2" r="7"/><circle cx="1060.8" cy="1034.7" r="7"/><circle cx="1063.8" cy="1036.2" r="7"/><circle cx="1067.2" cy="1037.8" r="7"/><circle cx="1072.2" cy="1040.2" r="7"/><circle cx="1074.5" cy="1041.3" r="7"/><circle cx="1087.8" cy="1047.7" r="7"/><circle cx="1089.8" cy="1048.7" r="7"/><circle cx="1090.1" cy="1048.8" r="7"/><circle cx="1097.6" cy="1052.4" r="7"/><circle cx="1116.5" cy="1061.5" r="7"/><circle cx="1120.5" cy="1063.5" r="7"/><circle cx="1125.8" cy="1066.0" r="7"/><circle cx="1125.8" cy="1066.0" r="7"/><circle cx="1127.0" cy="1066.6" r="7"/><circle cx="1129.7" cy="1067.9" r="7"/><circle cx="1144.8" cy="1075.2" r="7"/><circle cx="1149.1" cy="1077.3" r="7"/><circle cx="1162.5" cy="1083.7" r="7"/><circle cx="1165.8" cy="1085.3" r="7"/><circle cx="1175.5" cy="1090.0" r="7"/><circle cx="1182.9" cy="1093.5" r="7"/></g></g>
<g id="modeled-s2"><g fill="none" stroke="#00ff00" stroke-width="4.5" shape-rendering="crispEdges"><circle cx="493.0" cy="748.7" r="18.3"/><circle cx="510.6" cy="757.6" r="18.3"/><circle cx="528.2" cy="766.4" r="18.3"/><circle cx="545.9" cy="775.3" r="18.3"/><circle cx="563.5" cy="784.1" r="18.3"/><circle cx="581.1" cy="793.0" r="18.3"/><circle cx="598.7" cy="801.9" r="18.3"/><circle cx="616.4" cy="810.7" r="18.3"/><circle cx="634.0" cy="819.6" r="18.3"/><circle cx="651.6" cy="828.5" r="18.3"/><circle cx="669.2" cy="837.3" r="18.3"/><circle cx="686.9" cy="846.2" r="18.3"/><circle cx="704.5" cy="855.0" r="18.3"/><circle cx="722.1" cy="863.9" r="18.3"/><circle cx="739.7" cy="872.8" r="18.3"/><circle cx="757.4" cy="881.6" r="18.3"/><circle cx="775.0" cy="890.5" r="18.3"/><circle cx="792.6" cy="899.4" r="18.3"/><circle cx="810.2" cy="908.2" r="18.3"/><circle cx="827.9" cy="917.1" r="18.3"/><circle cx="845.5" cy="925.9" r="18.3"/><circle cx="863.1" cy="934.8" r="18.3"/><circle cx="880.7" cy="943.7" r="18.3"/><circle cx="898.4" cy="952.5" r="18.3"/><circle cx="916.0" cy="961.4" r="18.3"/><circle cx="933.6" cy="970.2" r="18.3"/><circle cx="951.2" cy="979.1" r="18.3"/><circle cx="968.8" cy="988.0" r="18.3"/><circle cx="986.5" cy="996.8" r="18.3"/><circle cx="1004.1" cy="1005.7" r="18.3"/><circle cx="1021.7" cy="1014.6" r="18.3"/><circle cx="1039.3" cy="1023.4" r="18.3"/><circle cx="1057.0" cy="1032.3" r="18.3"/><circle cx="1074.6" cy="1041.1" r="18.3"/><circle cx="1092.2" cy="1050.0" r="18.3"/><circle cx="1109.8" cy="1058.9" r="18.3"/><circle cx="1127.5" cy="1067.7" r="18.3"/><circle cx="1145.1" cy="1076.6" r="18.3"/><circle cx="1162.7" cy="1085.5" r="18.3"/><circle cx="1180.3" cy="1094.3" r="18.3"/><circle cx="1198.0" cy="1103.2" r="18.3"/><circle cx="1215.6" cy="1112.0" r="18.3"/><circle cx="1233.2" cy="1120.9" r="18.3"/><circle cx="1250.8" cy="1129.8" r="18.3"/><circle cx="1268.5" cy="1138.6" r="18.3"/><circle cx="1286.1" cy="1147.5" r="18.3"/><circle cx="1303.7" cy="1156.4" r="18.3"/><circle cx="1321.3" cy="1165.2" r="18.3"/><circle cx="1339.0" cy="1174.1" r="18.3"/><circle cx="1356.6" cy="1182.9" r="18.3"/><circle cx="1374.2" cy="1191.8" r="18.3"/></g></g>
<g id="modeled-s3"><path d="M471 757h38M490 738v38M506 774h38M525 755v38M541 791h38M560 772v38M575 808h38M594 789v38M610 824h38M629 805v38M645 841h38M664 822v38M680 858h38M699 839v38M715 875h38M734 856v38M750 892h38M769 873v38M785 909h38M804 890v38M819 926h38M838 907v38M854 942h38M873 923v38M889 959h38M908 940v38M924 976h38M943 957v38M959 993h38M978 974v38M994 1010h38M1013 991v38M1029 1027h38M1048 1008v38M1063 1043h38M1082 1024v38M1098 1060h38M1117 1041v38M1133 1077h38M1152 1058v38M1168 1094h38M1187 1075v38M1203 1111h38M1222 1092v38M1238 1128h38M1257 1109v38M1273 1144h38M1292 1125v38M1307 1161h38M1326 1142v38M1342 1178h38M1361 1159v38M1377 1195h38M1396 1176v38M1412 1212h38M1431 1193v38M1447 1229h38M1466 1210v38M1482 1246h38M1501 1227v38M1517 1262h38M1536 1243v38M1551 1279h38M1570 1260v38M1586 1296h38M1605 1277v38M1621 1313h38M1640 1294v38M1656 1330h38M1675 1311v38M1691 1347h38M1710 1328v38M1726 1364h38M1745 1345v38M1761 1380h38M1780 1361v38M1795 1397h38M1814 1378v38M1830 1414h38M1849 1395v38M1865 1431h38M1884 1412v38M1900 1448h38M1919 1429v38M1935 1464h38M1954 1445v38M1970 1481h38M1989 1462v38M2005 1498h38M2024 1479v38M2039 1515h38M2058 1496v38M2074 1532h38M2093 1513v38M2109 1549h38M2128 1530v38M2144 1566h38M2163 1547v38M2179 1582h38M2198 1563v38M2214 1599h38M2233 1580v38" stroke="#00ff00" stroke-width="4" fill="none" shape-rendering="crispEdges"/></g>
<path d="M223 114V1720M221 1718H2257M477 1718v-22M731 1718v-22M985 1718v-22M1239 1718v-22M1493 1718v-22M1747 1718v-22M2001 1718v-22M2255 1718v-22M223 116h22M223 294h22M223 472h22M223 650h22M223 828h22M223 1006h22M223 1184h22M223 1362h22M223 1540h22" stroke="#262626" stroke-width="4" fill="none" shape-rendering="crispEdges"/>
<text transform="translate(222,1806.5) scale(1.02,1)" font-size="61.4" text-anchor="middle" fill="#262626" stroke="#262626" stroke-width="1.2" stroke-linejoin="round">0.005</text>
<text transform="translate(476,1806.5) scale(1.02,1)" font-size="61.4" text-anchor="middle" fill="#262626" stroke="#262626" stroke-width="1.2" stroke-linejoin="round">0.01</text>
<text transform="translate(730,1806.5) scale(1.02,1)" font-size="61.4" text-anchor="middle" fill="#262626" stroke="#262626" stroke-width="1.2" stroke-linejoin="round">0.015</text>
<text transform="translate(984,1806.5) scale(1.02,1)" font-size="61.4" text-anchor="middle" fill="#262626" stroke="#262626" stroke-width="1.2" stroke-linejoin="round">0.02</text>
<text transform="translate(1238,1806.5) scale(1.02,1)" font-size="61.4" text-anchor="middle" fill="#262626" stroke="#262626" stroke-width="1.2" stroke-linejoin="round">0.025</text>
<text transform="translate(1492,1806.5) scale(1.02,1)" font-size="61.4" text-anchor="middle" fill="#262626" stroke="#262626" stroke-width="1.2" stroke-linejoin="round">0.03</text>
<text transform="translate(1746,1806.5) scale(1.02,1)" font-size="61.4" text-anchor="middle" fill="#262626" stroke="#262626" stroke-width="1.2" stroke-linejoin="round">0.035</text>
<text transform="translate(2000,1806.5) scale(1.02,1)" font-size="61.4" text-anchor="middle" fill="#262626" stroke="#262626" stroke-width="1.2" stroke-linejoin="round">0.04</text>
<text transform="translate(2254,1806.5) scale(1.02,1)" font-size="61.4" text-anchor="middle" fill="#262626" stroke="#262626" stroke-width="1.2" stroke-linejoin="round">0.045</text>
<text transform="translate(195,139.5) scale(1.02,1)" font-size="61.4" text-anchor="end" fill="#262626" stroke="#262626" stroke-width="1.2" stroke-linejoin="round">12</text>
<text transform="translate(195,317.5) scale(1.02,1)" font-size="61.4" text-anchor="end" fill="#262626" stroke="#262626" stroke-width="1.2" stroke-linejoin="round">11</text>
<text transform="translate(195,495.5) scale(1.02,1)" font-size="61.4" text-anchor="end" fill="#262626" stroke="#262626" stroke-width="1.2" stroke-linejoin="round">10</text>
<text transform="translate(195,673.5) scale(1.02,1)" font-size="61.4" text-anchor="end" fill="#262626" stroke="#262626" stroke-width="1.2" stroke-linejoin="round">9</text>
<text transform="translate(195,851.5) scale(1.02,1)" font-size="61.4" text-anchor="end" fill="#262626" stroke="#262626" stroke-width="1.2" stroke-linejoin="round">8</text>
<text transform="translate(195,1029.5) scale(1.02,1)" font-size="61.4" text-anchor="end" fill="#262626" stroke="#262626" stroke-width="1.2" stroke-linejoin="round">7</text>
<text transform="translate(195,1207.5) scale(1.02,1)" font-size="61.4" text-anchor="end" fill="#262626" stroke="#262626" stroke-width="1.2" stroke-linejoin="round">6</text>
<text transform="translate(195,1385.5) scale(1.02,1)" font-size="61.4" text-anchor="end" fill="#262626" stroke="#262626" stroke-width="1.2" stroke-linejoin="round">5</text>
<text transform="translate(195,1563.5) scale(1.02,1)" font-size="61.4" text-anchor="end" fill="#262626" stroke="#262626" stroke-width="1.2" stroke-linejoin="round">4</text>
<text transform="translate(195,1741.5) scale(1.02,1)" font-size="61.4" text-anchor="end" fill="#262626" stroke="#262626" stroke-width="1.2" stroke-linejoin="round">3</text>
<text transform="translate(1237,1896.5) scale(1.02,1)" font-size="67.5" text-anchor="middle" fill="#262626" stroke="#262626" stroke-width="1.2" stroke-linejoin="round">Network density (veh/m)</text>
<text transform="translate(88.7,917) rotate(-90) scale(1.02,1)" font-size="67.5" text-anchor="middle" fill="#262626" stroke="#262626" stroke-width="1.2" stroke-linejoin="round">Network speed (m/s)</text>
<text transform="translate(1235,82.6) scale(1.015,1)" font-size="67.5" text-anchor="middle" fill="#000" stroke="#000" stroke-width="0.6" stroke-linejoin="round" font-weight="bold">Experiment 4</text>
<rect x="1651" y="153" width="571" height="476.5" fill="#fff" stroke="#262626" stroke-width="4" shape-rendering="crispEdges"/>
<g fill="#000" shape-rendering="crispEdges"><circle cx="1763.0" cy="199.6" r="7"/></g>
<g fill="none" stroke="#0000ff" stroke-width="4.5" shape-rendering="crispEdges"><circle cx="1763.0" cy="276.3" r="18.3"/></g>
<path d="M1744 353h38M1763 334v38" stroke="#ff0000" stroke-width="4" fill="none" shape-rendering="crispEdges"/>
<g fill="#00ff00" shape-rendering="crispEdges"><circle cx="1763.0" cy="429.7" r="7"/></g>
<g fill="none" stroke="#00ff00" stroke-width="4.5" shape-rendering="crispEdges"><circle cx="1763.0" cy="506.4" r="18.3"/></g>
<path d="M1744 583h38M1763 564v38" stroke="#00ff00" stroke-width="4" fill="none" shape-rendering="crispEdges"/>
<text transform="translate(1871.5,221.3) scale(1.008,1)" font-size="55.3" text-anchor="start" fill="#000" stroke="#000" stroke-width="1.0" stroke-linejoin="round">Observed S1</text>
<text transform="translate(1871.5,298.0) scale(1.008,1)" font-size="55.3" text-anchor="start" fill="#000" stroke="#000" stroke-width="1.0" stroke-linejoin="round">Observed S2</text>
<text transform="translate(1871.5,374.7) scale(1.008,1)" font-size="55.3" text-anchor="start" fill="#000" stroke="#000" stroke-width="1.0" stroke-linejoin="round">Observed S3</text>
<text transform="translate(1871.5,451.4) scale(1.008,1)" font-size="55.3" text-anchor="start" fill="#000" stroke="#000" stroke-width="1.0" stroke-linejoin="round">Modeled S1</text>
<text transform="translate(1871.5,528.1) scale(1.008,1)" font-size="55.3" text-anchor="start" fill="#000" stroke="#000" stroke-width="1.0" stroke-linejoin="round">Modeled S2</text>
<text transform="translate(1871.5,604.8) scale(1.008,1)" font-size="55.3" text-anchor="start" fill="#000" stroke="#000" stroke-width="1.0" stroke-linejoin="round">Modeled S3</text>
</svg></body></html>
